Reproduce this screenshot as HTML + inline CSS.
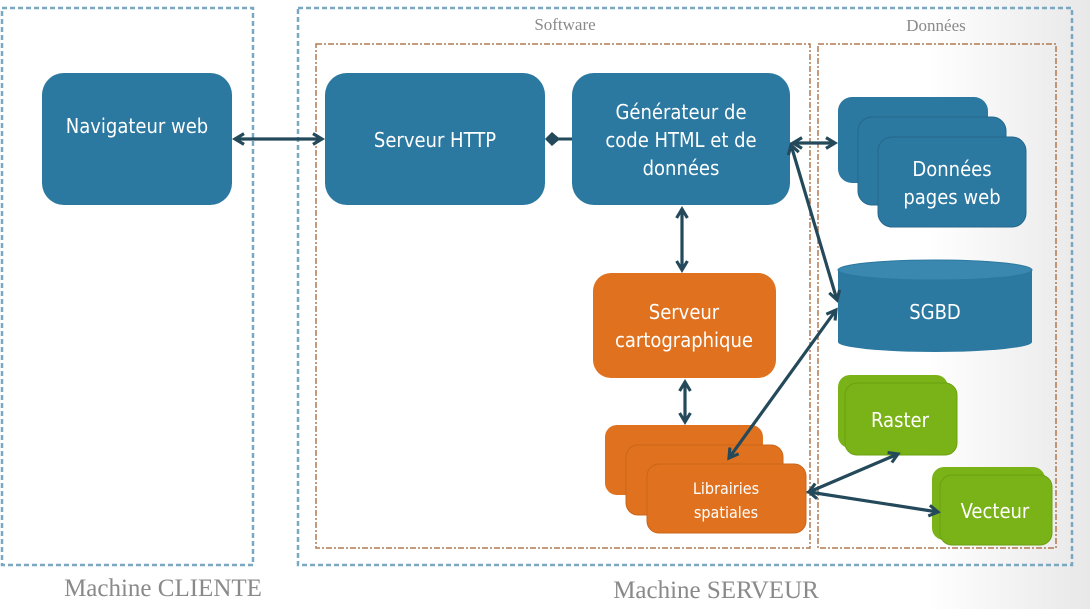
<!DOCTYPE html>
<html><head><meta charset="utf-8"><style>
html,body{margin:0;padding:0;background:#fff}
svg{display:block}
.t{font-family:"DejaVu Sans Condensed","Liberation Sans",sans-serif;fill:#fff;text-anchor:middle}
.s{font-family:"Liberation Serif",serif;fill:#8a8a8a;text-anchor:middle}
</style></head><body>
<svg width="1090" height="609" viewBox="0 0 1090 609" xmlns="http://www.w3.org/2000/svg">
<defs>
<linearGradient id="bg" x1="0" x2="1" y1="0" y2="0"><stop offset="0.85" stop-color="#fff"/><stop offset="1" stop-color="#e8e8e8"/></linearGradient>
<marker id="a" viewBox="0 0 12 12" refX="9" refY="6" markerWidth="4.5" markerHeight="4.5" orient="auto-start-reverse"><path d="M1.5,1.5 L9,6 L1.5,10.5" fill="none" stroke="#23495a" stroke-width="2.6"/></marker>
</defs>
<rect width="1090" height="609" fill="url(#bg)"/>
<g fill="none">
<rect x="2" y="8" width="251" height="557" stroke="#7aa7c2" stroke-width="2.5" stroke-dasharray="5,3"/>
<rect x="298" y="8" width="774" height="557" stroke="#7aa7c2" stroke-width="2.5" stroke-dasharray="5,3"/>
<rect x="316" y="44" width="494" height="504" stroke="#b07a50" stroke-width="1.5" stroke-dasharray="6,2,2,2"/>
<rect x="818" y="44" width="238" height="504" stroke="#b07a50" stroke-width="1.5" stroke-dasharray="6,2,2,2"/>
</g>
<text class="s" x="565" y="30" font-size="17">Software</text>
<text class="s" x="936" y="31" font-size="17">Données</text>
<text class="s" x="163" y="596" font-size="25">Machine CLIENTE</text>
<text class="s" x="716" y="598" font-size="25">Machine SERVEUR</text>
<g fill="#2b78a0">
<rect x="42" y="73" width="190" height="132" rx="22"/>
<rect x="325" y="73" width="220" height="132" rx="22"/>
<rect x="572" y="73" width="218" height="132" rx="22"/>
<rect x="838" y="97" width="150" height="86" rx="14"/>
<rect x="858" y="117" width="148" height="88" rx="14" stroke="#25688c" stroke-width="1"/>
<rect x="878" y="137" width="148" height="90" rx="14" stroke="#25688c" stroke-width="1"/>
<path d="M838,270 L838,342 A97,10 0 0 0 1032,342 L1032,270 Z"/>
<ellipse cx="935" cy="270" rx="97" ry="10" fill="#3a88b0" stroke="#2b78a0"/>
</g>
<text class="t" x="137" y="133" font-size="20">Navigateur web</text>
<text class="t" x="435" y="147" font-size="20">Serveur HTTP</text>
<text class="t" x="681" y="119" font-size="20">Générateur de</text>
<text class="t" x="681" y="147" font-size="20">code HTML et de</text>
<text class="t" x="681" y="175" font-size="20">données</text>
<text class="t" x="952" y="176" font-size="20">Données</text>
<text class="t" x="952" y="204" font-size="20">pages web</text>
<text class="t" x="935" y="319" font-size="20">SGBD</text>
<g fill="#e0721f">
<rect x="593" y="273" width="183" height="105" rx="18"/>
<rect x="605" y="425" width="158" height="70" rx="12"/>
<rect x="626" y="445" width="157" height="70" rx="12" stroke="#c9651a" stroke-width="1"/>
<rect x="647" y="464" width="159" height="69" rx="12" stroke="#c9651a" stroke-width="1"/>
</g>
<text class="t" x="684" y="319" font-size="20">Serveur</text>
<text class="t" x="684" y="347" font-size="20">cartographique</text>
<text class="t" x="726" y="494" font-size="16">Librairies</text>
<text class="t" x="726" y="518" font-size="16">spatiales</text>
<g fill="#7ab317">
<rect x="838" y="375" width="110" height="73" rx="12"/>
<rect x="845" y="383" width="112" height="72" rx="12" stroke="#6ba012" stroke-width="1"/>
<rect x="932" y="467" width="113" height="73" rx="12"/>
<rect x="940" y="475" width="112" height="70" rx="12" stroke="#6ba012" stroke-width="1"/>
</g>
<text class="t" x="900" y="427" font-size="20">Raster</text>
<text class="t" x="995" y="518" font-size="20">Vecteur</text>
<g stroke="#23495a" stroke-width="3.2" fill="none" marker-start="url(#a)" marker-end="url(#a)">
<line x1="235" y1="139" x2="322" y2="139"/>
<line x1="793" y1="143" x2="835" y2="143"/>
<line x1="682" y1="209" x2="682" y2="270"/>
<line x1="685" y1="382" x2="685" y2="422"/>
<line x1="791" y1="145" x2="837" y2="300"/>
<line x1="836" y1="310" x2="729" y2="458"/>
<line x1="809" y1="492" x2="898" y2="454"/>
<line x1="809" y1="492" x2="938" y2="512"/>
</g>
<line x1="558" y1="139" x2="572" y2="139" stroke="#23495a" stroke-width="3"/>
<path d="M546,139 L552,133 L559,139 L552,145 Z" fill="#23495a" stroke="#23495a" stroke-width="1.5"/>
</svg>
</body></html>
